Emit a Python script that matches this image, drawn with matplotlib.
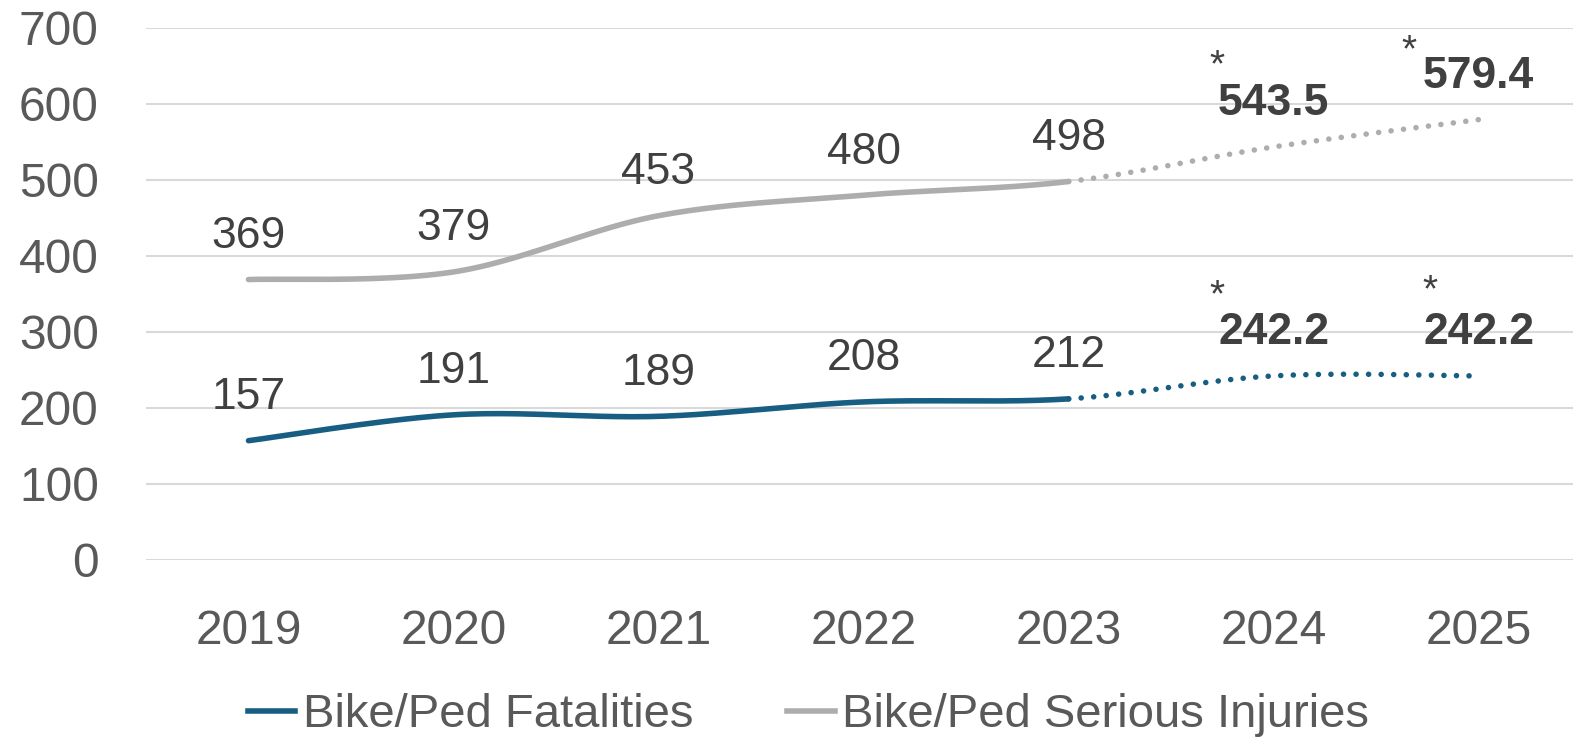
import numpy as np
import matplotlib
matplotlib.use('Agg')
from matplotlib import pyplot as plt
from matplotlib.lines import Line2D

plt.rcParams['font.family'] = ['Liberation Sans', 'DejaVu Sans']

years = ['2019', '2020', '2021', '2022', '2023', '2024', '2025']
fatalities = [157, 191, 189, 208, 212, 242.2, 242.2]
injuries = [369, 379, 453, 480, 498, 543.5, 579.4]
n_actual = 5  # 2019-2023 actual, 2024-2025 projected

c_fat = '#175E82'
c_inj = '#ADADAD'
c_txt = '#595959'
c_lbl = '#404040'

# asterisk offsets (points) for the projected labels
star_fat = [(-41, 57), (-35, 61)]
star_inj = [(-41, 58), (-50, 49)]


def smooth(vals, steps=40):
    # excel-like bezier smoothing, one piece per segment
    x = np.arange(len(vals), dtype=float)
    y = np.array(vals, dtype=float)
    P = np.column_stack([x, y])
    P = np.vstack([P[0], P, P[-1]])
    t = np.linspace(0, 1, steps)[:, None]
    segs = []
    for i in range(len(vals) - 1):
        p0, p3 = P[i + 1], P[i + 2]
        c1 = p0 + (p3 - P[i]) / 6
        c2 = p3 - (P[i + 3] - p0) / 6
        b = (1 - t)**3 * p0 + 3 * (1 - t)**2 * t * c1 + 3 * (1 - t) * t**2 * c2 + t**3 * p3
        segs.append(b)
    return segs


fig = plt.figure(figsize=(15.73, 7.42), dpi=100)
ax = fig.add_axes([0.0928, 0.2453, 0.9072, 0.717])

for vals, col in [(injuries, c_inj), (fatalities, c_fat)]:
    segs = smooth(vals)
    solid = np.vstack(segs[:n_actual - 1])
    dotted = np.vstack(segs[n_actual - 1:])
    ax.plot(solid[:, 0], solid[:, 1], color=col, lw=4, solid_capstyle='round', zorder=3)
    ax.plot(dotted[:, 0], dotted[:, 1], color=col, lw=4, linestyle=(0, (0.01, 2.25)),
            dash_capstyle='round', zorder=3)

for vals, stars in [(injuries, star_inj), (fatalities, star_fat)]:
    for i, v in enumerate(vals):
        if i < n_actual:
            ax.annotate('%g' % v, (i, v), xytext=(0, 31), textcoords='offset points',
                        ha='center', va='center', fontsize=32, color=c_lbl)
        else:
            ax.annotate('%.1f' % v, (i, v), xytext=(0, 31), textcoords='offset points',
                        ha='center', va='center', fontsize=32, color=c_lbl, fontweight='bold')
            ax.annotate('*', (i, v), xytext=stars[i - n_actual], textcoords='offset points',
                        ha='center', va='center', fontsize=28, color=c_lbl)

ax.set_xlim(-0.5, 6.46)
ax.set_ylim(0, 700)
ax.set_yticks(range(0, 701, 100))
ax.set_xticks(range(len(years)))
ax.set_xticklabels(years)
ax.grid(axis='y', color='#D9D9D9', lw=1.5)
ax.set_axisbelow(True)
for s in ax.spines.values():
    s.set_visible(False)
ax.tick_params(axis='both', length=0, labelsize=34.5, colors=c_txt)
ax.tick_params(axis='y', pad=34)
ax.tick_params(axis='x', pad=35)

handles = [Line2D([], [], color=c_fat, lw=4), Line2D([], [], color=c_inj, lw=4)]
fig.legend(handles, ['Bike/Ped Fatalities', 'Bike/Ped Serious Injuries'],
           loc='center', bbox_to_anchor=(0.514, 0.036), ncol=2, frameon=False,
           prop={'size': 34}, labelcolor=c_txt,
           handlelength=1.0, handletextpad=0.15, columnspacing=2.0)

fig.savefig('out.png', dpi=100)
